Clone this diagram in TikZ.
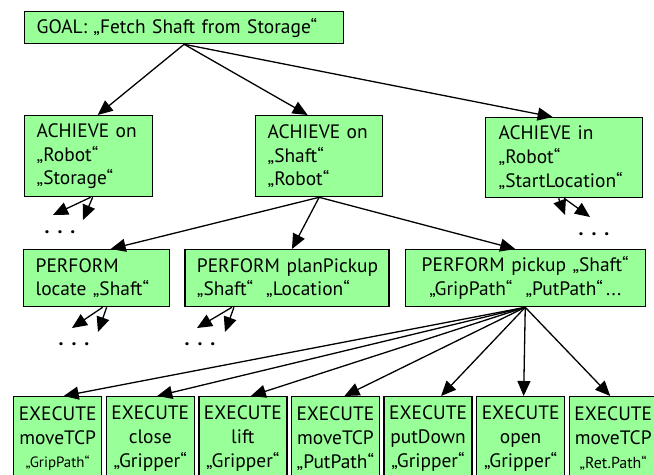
\documentclass[tikz,border=0pt]{standalone}
\usepackage{fontspec}
\setmainfont{PT Sans}
\usepackage{tikz}
\usetikzlibrary{arrows.meta,positioning}
\definecolor{boxgreen}{RGB}{153,255,153}
\newcommand{\gdots}{.\hspace{8bp}.\hspace{8bp}.}

\begin{document}
\begin{tikzpicture}[x=1bp, y=-1bp,
                >={Triangle[length=15bp,width=13bp]},
                every node/.append style={font=\fontsize{19.5}{24}\selectfont},
                box/.style={draw, line width=1.3bp, fill=boxgreen, anchor=north west, inner sep=0pt, align=left},
                exe/.style={box, minimum width=88bp, minimum height=84bp, text width=86bp, align=center},
                dots/.style={font=\fontsize{20}{24}\selectfont\bfseries, anchor=base}]

\useasboundingbox (0,0) rectangle (654,475);

\node[box, minimum width=319bp, minimum height=32bp, text width=295bp] (goal) at (24,11) {GOAL: „Fetch Shaft from Storage“};

\node[box, minimum width=128bp, minimum height=81bp, text width=104bp] (ach1) at (24,115) {ACHIEVE on\\„Robot“\\„Storage“};
\node[box, minimum width=127bp, minimum height=81bp, text width=103bp] (ach2) at (255,115) {ACHIEVE on\\„Shaft“\\„Robot“};
\node[box, minimum width=157bp, minimum height=80bp, text width=131bp] (ach3) at (485,117) {ACHIEVE in\\„Robot“\\„StartLocation“};

\node[box, minimum width=146bp, minimum height=57bp, text width=122bp] (per1) at (23,249) {PERFORM\\locate „Shaft“};
\node[box, minimum width=204bp, minimum height=57bp, text width=180bp, right=14bp of per1] (per2) {\mbox{PERFORM planPickup}\\„Shaft“ \ „Location“};
\node[box, minimum width=240bp, minimum height=57bp, text width=226bp, align=center, right=15bp of per2] (per3) {PERFORM pickup „Shaft“\\„GripPath“ \ „PutPath“\,...};

\node[exe] (exe1) at (13,396) {EXECUTE\\moveTCP\\{\fontsize{15}{24}\selectfont„GripPath“}};
\node[exe, right=3.3bp of exe1] (exe2) {EXECUTE\\close\\„Gripper“};
\node[exe, right=3.3bp of exe2] (exe3) {EXECUTE\\lift\\„Gripper“};
\node[exe, right=3.3bp of exe3] (exe4) {EXECUTE\\moveTCP\\„PutPath“};
\node[exe, right=3.3bp of exe4] (exe5) {EXECUTE\\putDown\\„Gripper“};
\node[exe, right=3.3bp of exe5] (exe6) {EXECUTE\\open\\„Gripper“};
\node[exe, right=3.3bp of exe6] (exe7) {EXECUTE\\moveTCP\\{\fontsize{16}{24}\selectfont„Ret.Path“}};

\node[dots] (dots1) at (60,234) {\gdots};
\node[dots] (dots2) at (594,236) {\gdots};
\node[dots] (dots3) at (74,345) {\gdots};
\node[dots] (dots4) at (200,345) {\gdots};

\coordinate (a1l) at (53,215);
\coordinate (a1r) at (83,220);
\coordinate (a3l) at (565,215);
\coordinate (a3r) at (590,217);
\coordinate (p1l) at (72,328);
\coordinate (p1r) at (98,332);
\coordinate (p2l) at (197,328);
\coordinate (p2r) at (225,332);

\path[->, line width=1.3bp]
    (goal.south) edge ([xshift=9bp]ach1.north)
    (goal.south) edge ([xshift=-11.5bp]ach2.north)
    (goal.south) edge ([xshift=-11.5bp]ach3.north)
    (ach2.south) edge ([xshift=14bp]per1.north)
    (ach2.south) edge ([xshift=5bp]per2.north)
    (ach2.south) edge ([xshift=-10bp]per3.north);
\path[->, line width=1.3bp]
    (per3.south) edge ([xshift=6bp]exe1.north)
    (per3.south) edge ([xshift=7bp]exe2.north)
    (per3.south) edge ([xshift=8bp]exe3.north)
    (per3.south) edge ([xshift=9bp]exe4.north)
    (per3.south) edge ([xshift=13bp]exe5.north)
    (per3.south) edge ([xshift=3bp]exe6.north)
    (per3.south) edge ([xshift=-3bp]exe7.north);
\path[->, line width=1.3bp]
    ([xshift=2bp]ach1.south) edge (a1l)
    ([xshift=4bp]ach1.south) edge (a1r)
    ([xshift=-5.5bp]ach3.south) edge (a3l)
    (ach3.south) edge (a3r)
    ([xshift=6bp]per1.south) edge (p1l)
    ([xshift=10bp]per1.south) edge (p1r)
    ([xshift=-55bp]per2.south) edge (p2l)
    ([xshift=-53bp]per2.south) edge (p2r);

\end{tikzpicture}
\end{document}
